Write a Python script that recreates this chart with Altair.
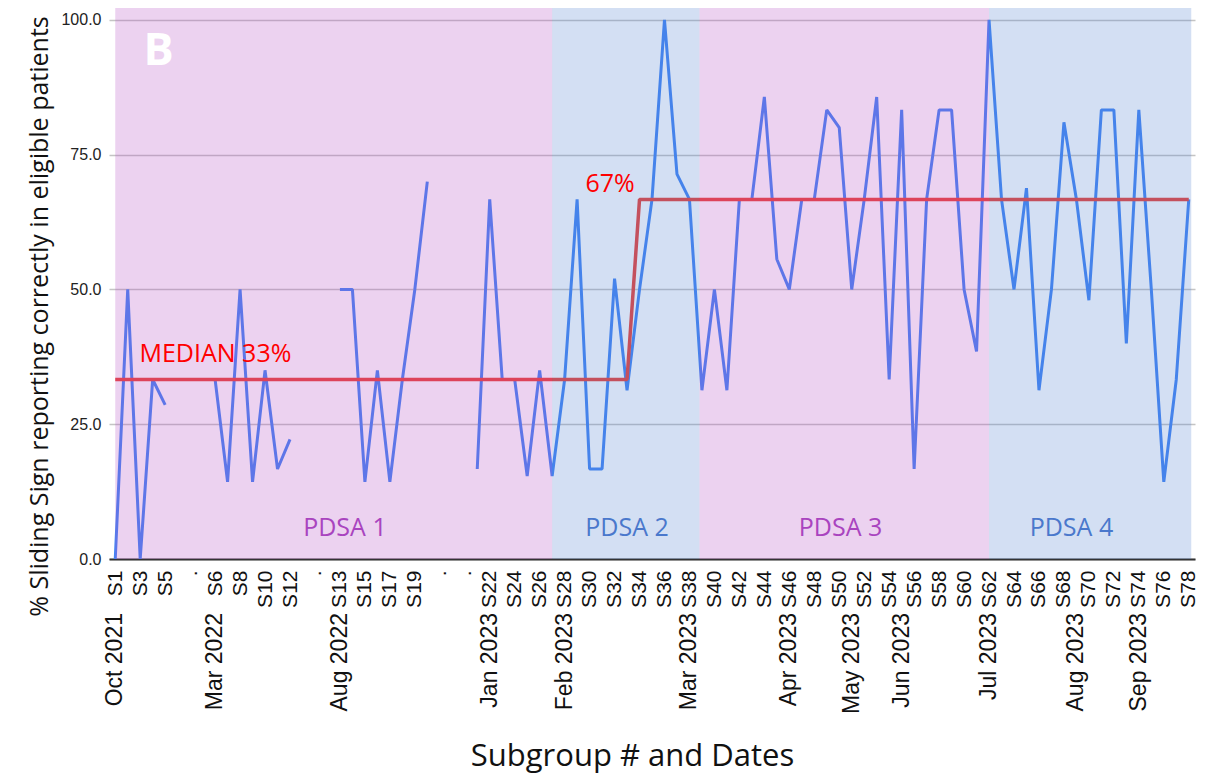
import json
import altair as alt
import pandas as pd

# ---------------- data ----------------
subgroups = [
    "S1", "S2", "S3", "S4", "S5", ".", ".", ".",
    "S6", "S7", "S8", "S9", "S10", "S11", "S12", ".", ".", ".",
    "S13", "S14", "S15", "S16", "S17", "S18", "S19", "S20", ".", ".", ".",
    "S21", "S22", "S23", "S24", "S25", "S26", "S27", "S28", "S29", "S30",
    "S31", "S32", "S33", "S34", "S35", "S36", "S37", "S38", "S39", "S40",
    "S41", "S42", "S43", "S44", "S45", "S46", "S47", "S48", "S49", "S50",
    "S51", "S52", "S53", "S54", "S55", "S56", "S57", "S58", "S59", "S60",
    "S61", "S62", "S63", "S64", "S65", "S66", "S67", "S68", "S69", "S70",
    "S71", "S72", "S73", "S74", "S75", "S76", "S77", "S78",
]
values = [
    0, 50, 0, 33.3, 28.6, None, None, None,
    33.3, 14.3, 50, 14.3, 35, 16.7, 22.2, None, None, None,
    50, 50, 14.3, 35, 14.3, 33.3, 50, 70, None, None, None,
    16.7, 66.7, 33.3, 33.3, 15.4, 35, 15.4, 33.3, 66.7, 16.7,
    16.7, 52, 31.3, 50, 66.7, 100, 71.4, 66.7, 31.3, 50,
    31.3, 66.7, 66.7, 85.7, 55.6, 50, 66.7, 66.7, 83.3, 80,
    50, 66.7, 85.7, 33.3, 83.3, 16.7, 66.7, 83.3, 83.3, 50,
    38.5, 100, 66.7, 50, 68.8, 31.3, 50, 81, 66.7, 48,
    83.3, 83.3, 40, 83.3, 50, 14.3, 33.3, 66.7,
]

date_subgroups = ["S1", "S6", "S13", "S22", "S28", "S38", "S46", "S51", "S55", "S62", "S69", "S74"]
date_labels = ["Oct 2021", "Mar 2022", "Aug 2022", "Jan 2023", "Feb 2023", "Mar 2023",
               "Apr 2023", "May 2023", "Jun 2023", "Jul 2023", "Aug 2023", "Sep 2023"]

median_subgroups = ["S1", "S33", "S34", "S78"]
median_values = [33.3, 33.3, 66.7, 66.7]

phase_names = ["PDSA 1", "PDSA 2", "PDSA 3", "PDSA 4"]
phase_start = [0, 35, 46.8, 70]          # category positions
phase_end = [35, 46.8, 70, 86.2]
phase_fill = ["#b34bc3", "#4f7fcf", "#b34bc3", "#4f7fcf"]
phase_label_pos = [18.4, 41.0, 58.1, 76.6]
phase_label_color = ["#a944bf", "#4a78cc", "#a944bf", "#4a78cc"]

median_text = ["MEDIAN 33%", "67%"]
median_text_pos = [1.94, 37.67]
median_text_val = [36.6, 68.1]

panel_text = ["B"]
panel_text_pos = [2.26]
panel_text_val = [91.6]

Y_TOP = 102.2
W, H = 1086, 551

# ---------------- frames ----------------
seg, s = [], 0
for v in values:
    if v is None:
        s += 1
    seg.append(s)
line_df = pd.DataFrame({"pos": list(range(len(subgroups))), "value": values,
                        "seg": seg}).dropna(subset=["value"])

pos_of = {name: i for i, name in enumerate(subgroups) if name != "."}
median_df = pd.DataFrame({"pos": [pos_of[n] for n in median_subgroups], "value": median_values})
date_df = pd.DataFrame({"pos": [pos_of[n] for n in date_subgroups], "label": date_labels})
phase_df = pd.DataFrame({"phase": phase_names, "pos": phase_start, "end": phase_end,
                         "value": [0] * 4, "hi": [Y_TOP] * 4, "c": phase_fill})
phase_lab_df = pd.DataFrame({"phase": phase_names, "pos": phase_label_pos,
                             "value": [4.27] * 4, "c": phase_label_color})
med_txt_df = pd.DataFrame({"t": median_text, "pos": median_text_pos, "value": median_text_val})
panel_df = pd.DataFrame({"t": panel_text, "pos": panel_text_pos, "value": panel_text_val})

# ---------------- scales / axes ----------------
xs = alt.Scale(domain=[-0.5, len(subgroups) - 0.5], nice=False, zero=False)
ys = alt.Scale(domain=[0, Y_TOP], nice=False, zero=False)

x_axis = alt.Axis(
    values=list(range(0, len(subgroups), 2)),
    labelExpr=json.dumps(subgroups) + "[datum.value]",
    labelAngle=270, labelFont="Liberation Sans", labelFontSize=21, labelColor="#111111",
    labelPadding=11, ticks=False, tickSize=0, grid=False,
    domain=True, domainColor="#333333", domainWidth=2,
    labelOverlap=False, labelFlush=False, labelBound=False,
    title="Subgroup # and Dates", titleFont="Open Sans", titleFontSize=31,
    titleFontWeight="normal", titleColor="#111111",
    titleX=523, titleY=197, titleAlign="center", titleBaseline="middle",
)
y_axis = alt.Axis(
    values=[0, 25, 50, 75, 100], format=".1f",
    labelFont="Liberation Sans", labelFontSize=16, labelColor="#222222", labelPadding=8,
    ticks=False, tickSize=0, domain=False, grid=True, gridColor="#c4c4c4", gridWidth=1.5,
    title="% Sliding Sign reporting correctly in eligible patients",
    titleFont="Open Sans", titleFontSize=25, titleFontWeight="normal", titleColor="#111111",
    titleX=-70, titleY=308, titleAlign="center", titleBaseline="middle", titleAngle=270,
)

X = alt.X("pos:Q", scale=xs, axis=x_axis)
Y = alt.Y("value:Q", scale=ys, axis=y_axis)

# ---------------- layers ----------------
blue = alt.Chart(line_df).mark_line(color="#4285f4", strokeWidth=3, strokeJoin="bevel").encode(
    x=X, y=Y, detail="seg:N",
)
red = alt.Chart(median_df).mark_line(color="#eb4137", strokeWidth=3.5, strokeJoin="bevel").encode(
    x=X, y=Y,
)
rects = alt.Chart(phase_df).mark_rect(fillOpacity=0.25, strokeWidth=0).encode(
    x=X, x2="end:Q", y=Y, y2="hi:Q",
    color=alt.Color("c:N", scale=None, legend=None),
)
phase_text = alt.Chart(phase_lab_df).mark_text(
    font="Open Sans", fontSize=25, align="center", baseline="alphabetic").encode(
    x=X, y=Y, text="phase:N",
    color=alt.Color("c:N", scale=None, legend=None),
)
med_text = alt.Chart(med_txt_df).mark_text(
    font="Open Sans", fontSize=25, align="left", baseline="alphabetic", color="#ff0000").encode(
    x=X, y=Y, text="t:N",
)
panel = alt.Chart(panel_df).mark_text(
    font="Open Sans", fontSize=45, fontWeight="bold", align="left", baseline="alphabetic",
    color="#ffffff").encode(
    x=X, y=Y, text="t:N",
)
dates = alt.Chart(date_df).mark_text(
    font="Liberation Sans", fontSize=23, angle=270, align="right", baseline="middle",
    color="#111111").encode(
    x=X, y=alt.value(605), text="label:N",
)

chart = alt.layer(blue, red, rects, phase_text, med_text, panel, dates).properties(
    width=W, height=H,
    autosize=alt.AutoSizeParams(type="none"),
    padding={"left": 101, "top": 0, "right": 8, "bottom": 214},
    background="white",
).configure_view(stroke=None)

chart.save("out.html", embed_options={"renderer": "svg", "actions": False})
